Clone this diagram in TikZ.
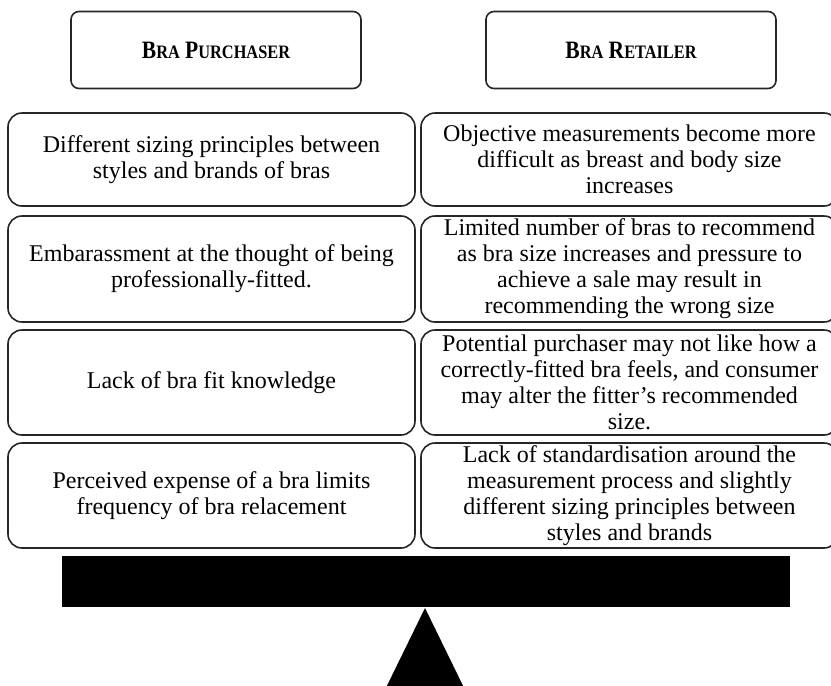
\documentclass[tikz,border=0pt]{standalone}
\usepackage{fontspec}
\setmainfont{Liberation Serif}
\usetikzlibrary{positioning}

% small caps by hand for the two headings
\newcommand{\smc}[1]{{\fontsize{19}{21}\selectfont #1}}
\newcommand{\heading}[1]{\scalebox{0.86}[1]{#1}}

\begin{document}
\begin{tikzpicture}[x=1pt,y=-1pt,
    box/.style={draw=black!85, line width=1.6pt, rounded corners=14pt,
        align=center, inner sep=0pt, font=\fontsize{24}{26}\selectfont},
    head box/.style={box, rounded corners=8pt, minimum width=290pt,
        minimum height=77pt, font=\fontsize{25}{27}\selectfont\bfseries},
    buyer box/.style={box, minimum width=407pt},
    seller box/.style={box, minimum width=417pt}
]

% Picture frame
\useasboundingbox (0,0) rectangle (831,686);

% --- Headings ---
\node[head box] (buyer)  at (216,50) {\heading{B\smc{RA} P\smc{URCHASER}}};
\node[head box] (seller) at (631,50) {\heading{B\smc{RA} R\smc{ETAILER}}};

% --- Purchaser side ---
\node[buyer box, minimum height=93pt]  (b1) at (211.5,159.5)
    {Different sizing principles between\\styles and brands of bras};
\node[buyer box, minimum height=106pt] (b2) at (211.5,269)
    {Embarassment at the thought of being\\professionally-fitted.};
\node[buyer box, minimum height=105pt] (b3) at (211.5,382.5)
    {Lack of bra fit knowledge};
\node[buyer box, minimum height=105pt] (b4) at (211.5,495.5)
    {Perceived expense of a bra limits\\frequency of bra relacement};

% --- Retailer side ---
\node[seller box, minimum height=93pt]  (s1) at (629.5,159.5)
    {Objective measurements become more\\difficult as breast and body size\\increases};
\node[seller box, minimum height=106pt] (s2) at (629.5,269)
    {Limited number of bras to recommend\\as bra size increases and pressure to\\achieve a sale may result in\\recommending the wrong size};
\node[seller box, minimum height=105pt] (s3) at (629.5,382.5)
    {Potential purchaser may not like how a\\correctly-fitted bra feels, and consumer\\may alter the fitter's recommended\\size.};
\node[seller box, minimum height=105pt] (s4) at (629.5,495.5)
    {Lack of standardisation around the\\measurement process and slightly\\different sizing principles between\\styles and brands};

% --- Scale beam and pivot ---
\fill[black] (62,556) rectangle (790,607);
\coordinate (tip) at (425,608);
\fill[black] (tip) -- (380,700) -- (470,700) -- cycle;

\end{tikzpicture}
\end{document}
